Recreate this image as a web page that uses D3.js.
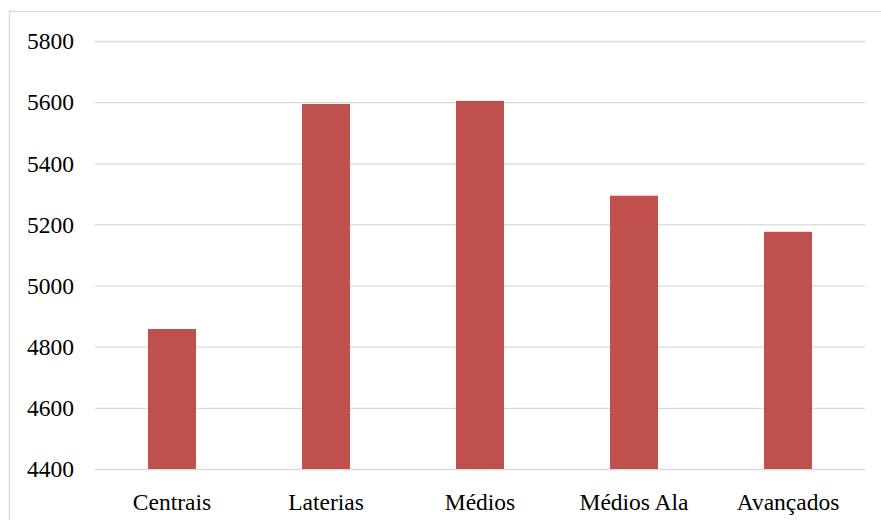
<!DOCTYPE html>
<html><head><meta charset="utf-8">
<script src="https://cdn.jsdelivr.net/npm/d3@7"></script>
<style>body{margin:0;background:#fff;}svg{display:block;}</style>
</head><body>
<svg id="chart" width="881" height="520"></svg>
<script>
const categories = ["Centrais", "Laterias", "Médios", "Médios Ala", "Avançados"];
const values = [4858, 5594, 5604, 5294, 5176];
const yTicks = [4400, 4600, 4800, 5000, 5200, 5400, 5600, 5800];

const svg = d3.select("#chart");
const W = 881, H = 520;
const m = {left: 95, right: 16, top: 41, bottom: 51};
const font = "'Liberation Serif','Times New Roman',serif";

svg.append("rect").attr("x", 9.5).attr("y", 11.5).attr("width", W).attr("height", H)
  .attr("fill", "#fff").attr("stroke", "#d9d9d9").attr("stroke-width", 1.3);

const x = d3.scaleBand().domain(categories).range([m.left, W - m.right])
  .paddingInner(0.688).paddingOuter(0.344);
const y = d3.scaleLinear().domain([4400, 5800]).range([H - m.bottom, m.top]);

const yAxis = d3.axisLeft(y).tickValues(yTicks).tickSize(-(W - m.left - m.right)).tickPadding(21).tickFormat(d3.format("d"));
const gy = svg.append("g").attr("transform", `translate(${m.left},0)`).attr("font-family", font).call(yAxis);
gy.attr("font-family", font);
gy.select(".domain").remove();
gy.selectAll(".tick line").attr("stroke", "#d9d9d9").attr("stroke-width", 1.3);
gy.selectAll(".tick text").attr("font-family", font).attr("font-size", 23.5).attr("fill", "#000").attr("dy", "0.33em");

svg.append("g").selectAll("rect").data(categories).join("rect")
  .attr("x", d => x(d)).attr("width", x.bandwidth())
  .attr("y", (d, i) => y(values[i])).attr("height", (d, i) => y(4400) - y(values[i]))
  .attr("fill", "#C0504D");

const xAxis = d3.axisBottom(x).tickSize(0).tickPadding(24);
const gx = svg.append("g").attr("transform", `translate(0,${y(4400)})`).call(xAxis);
gx.attr("font-family", font);
gx.select(".domain").remove();
gx.selectAll(".tick text").attr("font-family", font).attr("font-size", 23.5).attr("fill", "#000").attr("dy", "0.71em");
</script>
</body></html>
